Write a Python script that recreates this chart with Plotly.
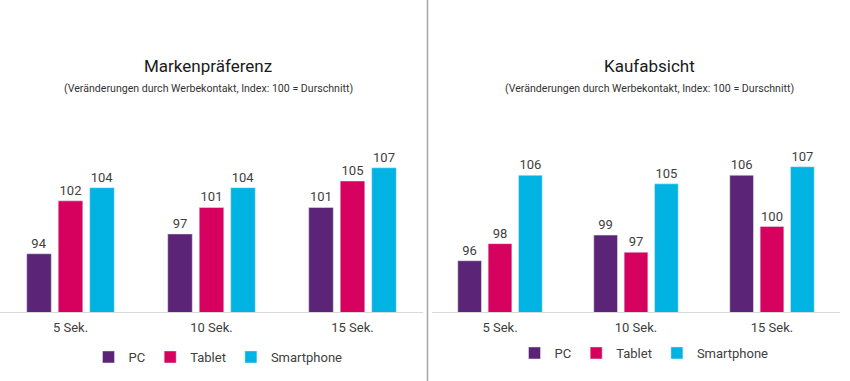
import plotly.graph_objects as go

categories = ["5 Sek.", "10 Sek.", "15 Sek."]
series_names = ["PC", "Tablet", "Smartphone"]
marken_pc = [94, 97, 101]
marken_tablet = [102, 101, 105]
marken_smartphone = [104, 104, 107]
kauf_pc = [96, 99, 106]
kauf_tablet = [98, 97, 100]
kauf_smartphone = [106, 105, 107]
colors = ["#5b2477", "#d6005f", "#00b3e3"]
title_left = "Markenpräferenz"
title_right = "Kaufabsicht"
subtitle = "(Veränderungen durch Werbekontakt, Index: 100 = Durschnitt)"

W, H = 850, 381
FONT = "Roboto, Arial, sans-serif"

fig = go.Figure()
left_vals = [marken_pc, marken_tablet, marken_smartphone]
right_vals = [kauf_pc, kauf_tablet, kauf_smartphone]
for i, name in enumerate(series_names):
    fig.add_trace(go.Bar(
        x=categories, y=left_vals[i], name=name, marker_color=colors[i],
        text=left_vals[i], textposition="outside", cliponaxis=False,
        textfont=dict(size=13, color="#404040", family=FONT),
        xaxis="x", yaxis="y", legend="legend", showlegend=True))
for i, name in enumerate(series_names):
    fig.add_trace(go.Bar(
        x=categories, y=right_vals[i], name=name, marker_color=colors[i],
        text=right_vals[i], textposition="outside", cliponaxis=False,
        textfont=dict(size=13, color="#404040", family=FONT),
        xaxis="x2", yaxis="y2", legend="legend2", showlegend=True))

ydom = [(H - 312) / H, (H - 140) / H]
fig.update_layout(
    width=W, height=H,
    margin=dict(l=0, r=0, t=0, b=0),
    paper_bgcolor="white", plot_bgcolor="white",
    font=dict(family=FONT, color="#404040", size=12),
    barmode="group", bargap=0.33, bargroupgap=0.22,
    xaxis=dict(domain=[0 / W, 423 / W], showline=True, linecolor="#d9d9d9", linewidth=1,
               ticks="", ticklabelstandoff=3, tickfont=dict(size=13, color="#404040"), anchor="y"),
    yaxis=dict(domain=ydom, range=[85.2, 111.2], visible=False, anchor="x"),
    xaxis2=dict(domain=[432 / W, 840 / W], showline=True, linecolor="#d9d9d9", linewidth=1,
                ticks="", ticklabelstandoff=3, tickfont=dict(size=13, color="#404040"), anchor="y2"),
    yaxis2=dict(domain=ydom, range=[90.0, 110.13], visible=False, anchor="x2"),
    legend=dict(orientation="h", x=218 / W, xanchor="center", y=(H - 357) / H, yanchor="middle",
                font=dict(size=13, color="#404040"), itemwidth=30, traceorder="normal"),
    legend2=dict(orientation="h", x=644 / W, xanchor="center", y=(H - 353) / H, yanchor="middle",
                 font=dict(size=13, color="#404040"), itemwidth=30, traceorder="normal"),
    shapes=[dict(type="line", xref="paper", yref="paper", x0=427.5 / W, x1=427.5 / W,
                 y0=0, y1=1, line=dict(color="#a6a6a6", width=1.5))],
    annotations=[
        dict(text=title_left, x=208 / W, y=(H - 66) / H, xref="paper", yref="paper",
             xanchor="center", yanchor="middle",
             showarrow=False, font=dict(size=17, color="#1a1a1a")),
        dict(text=subtitle, x=208 / W, y=(H - 88) / H, xref="paper", yref="paper",
             xanchor="center", yanchor="middle",
             showarrow=False, font=dict(size=10.6, color="#333333")),
        dict(text=title_right, x=649 / W, y=(H - 66) / H, xref="paper", yref="paper",
             xanchor="center", yanchor="middle",
             showarrow=False, font=dict(size=17, color="#1a1a1a")),
        dict(text=subtitle, x=649 / W, y=(H - 89) / H, xref="paper", yref="paper",
             xanchor="center", yanchor="middle",
             showarrow=False, font=dict(size=10.6, color="#333333")),
    ],
)

fig.write_html("out.html", config={"displayModeBar": False},
               post_script="document.body.style.margin='0';")
